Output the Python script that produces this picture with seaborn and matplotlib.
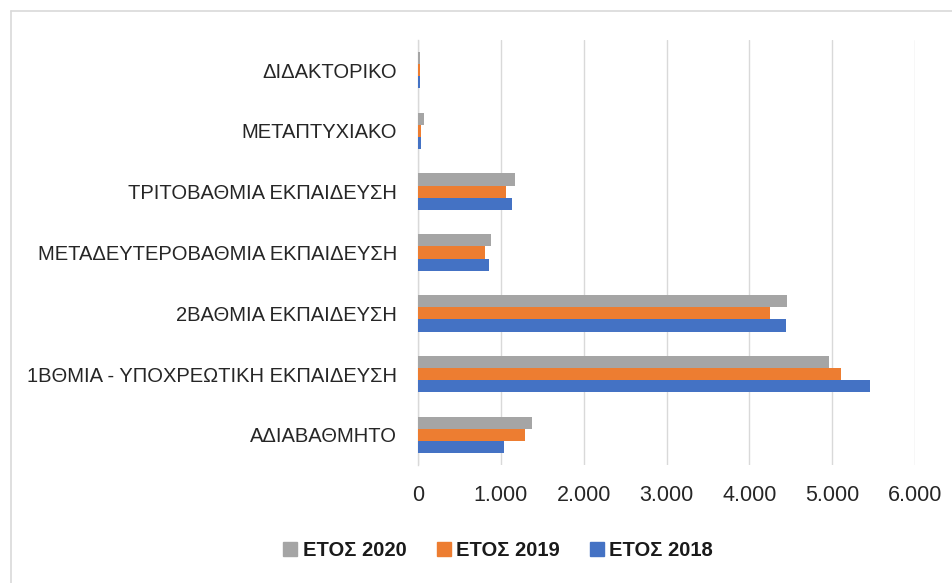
import matplotlib
matplotlib.use("Agg")
import matplotlib.pyplot as plt
from matplotlib.ticker import FuncFormatter, MultipleLocator
from matplotlib.lines import Line2D
import seaborn as sns
import pandas as pd

categories = ['ΔΙΔΑΚΤΟΡΙΚΟ', 'ΜΕΤΑΠΤΥΧΙΑΚΟ', 'ΤΡΙΤΟΒΑΘΜΙΑ ΕΚΠΑΙΔΕΥΣΗ',
              'ΜΕΤΑΔΕΥΤΕΡΟΒΑΘΜΙΑ ΕΚΠΑΙΔΕΥΣΗ', '2ΒΑΘΜΙΑ ΕΚΠΑΙΔΕΥΣΗ',
              '1ΒΘΜΙΑ - ΥΠΟΧΡΕΩΤΙΚΗ ΕΚΠΑΙΔΕΥΣΗ', 'ΑΔΙΑΒΑΘΜΗΤΟ']
series_names = ['ΕΤΟΣ 2020', 'ΕΤΟΣ 2019', 'ΕΤΟΣ 2018']
values_2020 = [22, 68, 1170, 878, 4458, 4965, 1380]
values_2019 = [20, 36, 1061, 809, 4253, 5102, 1287]
values_2018 = [20, 36, 1137, 858, 4439, 5460, 1041]
colors = ['#A5A5A5', '#ED7D31', '#4472C4']

rows = []
for name, vals in zip(series_names, [values_2020, values_2019, values_2018]):
    for c, v in zip(categories, vals):
        rows.append({'cat': c, 'year': name, 'value': v})
df = pd.DataFrame(rows)

sns.set_theme(style="white")
plt.rcParams['font.family'] = ['Liberation Sans', 'DejaVu Sans']

fig = plt.figure(figsize=(9.52, 5.83), dpi=100)
ax = fig.add_axes([418/952, 1 - 465.4/583, (915 - 418)/952, (465.4 - 39.6)/583])

sns.barplot(data=df, y='cat', x='value', hue='year', order=categories,
            hue_order=series_names, palette=colors, orient='h',
            width=0.6, gap=0, ax=ax, legend=False, saturation=1, linewidth=0)

ax.set_xlim(0, 6000)
ax.xaxis.set_major_locator(MultipleLocator(1000))
ax.xaxis.set_major_formatter(FuncFormatter(lambda x, p: f"{x:,.0f}".replace(",", ".")))
ax.grid(axis='x', color='#D9D9D9', linewidth=1)
ax.set_axisbelow(True)
for s in ['top', 'right', 'bottom']:
    ax.spines[s].set_visible(False)
ax.spines['left'].set_color('#D9D9D9')
ax.spines['left'].set_linewidth(1)
ax.spines['left'].set_zorder(0.5)
ax.set_xlabel('')
ax.set_ylabel('')
ax.tick_params(axis='y', length=0, pad=15, labelsize=14.5, labelcolor='#262626')
ax.tick_params(axis='x', length=0, pad=14, labelsize=15.5, labelcolor='#262626')

handles = [Line2D([0], [0], marker='s', linestyle='none', markersize=10,
                  markerfacecolor=c, markeredgecolor=c) for c in colors]
fig.legend(handles, series_names, loc='center', bbox_to_anchor=(0.5215, 0.055),
           ncol=3, frameon=False, prop={'weight': 'bold', 'size': 14.5},
           handletextpad=0.1, columnspacing=1.35, handlelength=1.0,
           labelcolor='#1a1a1a')

# chart border (top and left edges visible)
fig.add_artist(Line2D([11/952, 1], [1 - 11/583, 1 - 11/583], color='#D9D9D9', linewidth=1.2,
                      transform=fig.transFigure))
fig.add_artist(Line2D([11/952, 11/952], [0, 1 - 11/583], color='#D9D9D9', linewidth=1.2,
                      transform=fig.transFigure))

fig.savefig('out.png', dpi=100)
